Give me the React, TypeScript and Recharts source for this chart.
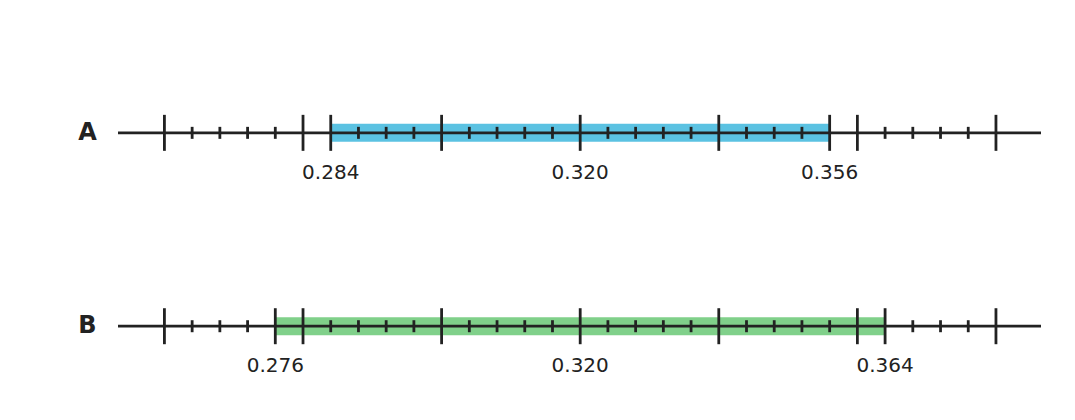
import React from 'react';
import { ComposedChart, Scatter, XAxis, YAxis } from 'recharts';

// rows of the chart, top to bottom
const ROW_NAMES = ['A', 'B'];
const INTERVAL_LOW = [0.284, 0.276];
const INTERVAL_HIGH = [0.356, 0.364];
const INTERVAL_COLORS = ['#5bc2e2', '#80d08a'];
const CENTER_LABEL = 0.32;

const X_MIN = 0.2533;
const X_MAX = 0.3865;
const MAJOR_TICKS = [0.26, 0.28, 0.3, 0.32, 0.34, 0.36, 0.38];
const MINOR_TICKS = [
  0.264, 0.268, 0.272, 0.276,
  0.284, 0.288, 0.292, 0.296,
  0.304, 0.308, 0.312, 0.316,
  0.324, 0.328, 0.332, 0.336,
  0.344, 0.348, 0.352, 0.356,
  0.364, 0.368, 0.372, 0.376,
];

const INK = '#222222';

const TickMark = (props: any) => {
  const { cx, cy, payload } = props;
  const h = payload.major ? 18 : 6;
  return <line x1={cx} x2={cx} y1={cy - h} y2={cy + h} stroke={INK} strokeWidth={2.8} />;
};

const ValueLabel = (props: any) => {
  const { cx, cy, payload } = props;
  return (
    <text x={cx} y={cy + 46} textAnchor="middle" fontSize={20} fill={INK} fontFamily="DejaVu Sans">
      {payload.x.toFixed(3)}
    </text>
  );
};

const RowTick = (props: any) => {
  const { x, y, payload } = props;
  return (
    <text x={x - 30.5} y={y + 7} textAnchor="middle" fontSize={24} fontWeight="bold" fill={INK} fontFamily="DejaVu Sans">
      {ROW_NAMES[payload.value]}
    </text>
  );
};

const Nothing = () => <g />;

export default function App() {
  const rows = ROW_NAMES.map((name, i) => {
    const lo = INTERVAL_LOW[i];
    const hi = INTERVAL_HIGH[i];
    const ticks = [
      ...MAJOR_TICKS.map(v => ({ x: v, y: i, major: true })),
      ...MINOR_TICKS.filter(v => v !== lo && v !== hi).map(v => ({ x: v, y: i, major: false })),
      { x: lo, y: i, major: true },
      { x: hi, y: i, major: true },
    ];
    return {
      name,
      band: [{ x: lo, y: i }, { x: hi, y: i }],
      axis: [{ x: X_MIN, y: i }, { x: X_MAX, y: i }],
      ticks,
      labels: [lo, CENTER_LABEL, hi].map(v => ({ x: v, y: i })),
      color: INTERVAL_COLORS[i],
    };
  });

  return (
    <div style={{ position: 'absolute', left: 0, top: 0, background: '#fff' }}>
      <ComposedChart width={1075} height={420} margin={{ top: 0, right: 34, bottom: 0, left: 0 }}>
        <XAxis type="number" dataKey="x" domain={[X_MIN, X_MAX]} allowDataOverflow hide />
        <YAxis
          type="number"
          dataKey="y"
          domain={[-0.687, 1.485]}
          reversed
          ticks={[0, 1]}
          width={118}
          axisLine={false}
          tickLine={false}
          tickSize={0}
          tickMargin={0}
          tick={<RowTick />}
        />
        {rows.map(r => (
          <Scatter
            key={`band-${r.name}`}
            data={r.band}
            line={{ stroke: r.color, strokeWidth: 18 }}
            shape={<Nothing />}
            isAnimationActive={false}
          />
        ))}
        {rows.map(r => (
          <Scatter
            key={`axis-${r.name}`}
            data={r.axis}
            line={{ stroke: INK, strokeWidth: 2.8 }}
            shape={<Nothing />}
            isAnimationActive={false}
          />
        ))}
        {rows.map(r => (
          <Scatter key={`ticks-${r.name}`} data={r.ticks} shape={<TickMark />} isAnimationActive={false} />
        ))}
        {rows.map(r => (
          <Scatter key={`labels-${r.name}`} data={r.labels} shape={<ValueLabel />} isAnimationActive={false} />
        ))}
      </ComposedChart>
    </div>
  );
}
